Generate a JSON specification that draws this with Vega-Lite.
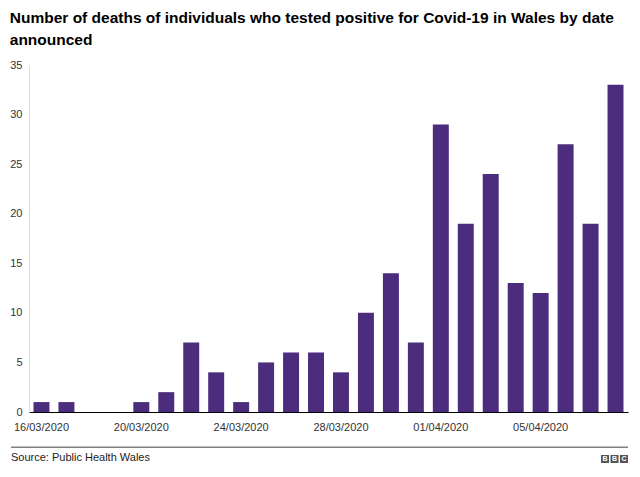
{
  "$schema": "https://vega.github.io/schema/vega-lite/v6.json",
  "width": 599,
  "height": 347,
  "autosize": {"type": "none"},
  "padding": {"left": 29, "top": 65, "right": 12, "bottom": 65},
  "background": "white",
  "config": {"view": {"stroke": null}, "font": "Liberation Sans"},
  "title": {
    "text": ["Number of deaths of individuals who tested positive for Covid-19 in Wales by date", "announced"],
    "anchor": "start",
    "dx": 0,
    "offset": 11,
    "fontSize": 15.5,
    "fontWeight": "bold",
    "color": "#000000",
    "font": "Liberation Sans",
    "lineHeight": 22
  },
  "data": {
    "values": [
      {"date": "16/03/2020", "deaths": 1},
      {"date": "17/03/2020", "deaths": 1},
      {"date": "18/03/2020", "deaths": 0},
      {"date": "19/03/2020", "deaths": 0},
      {"date": "20/03/2020", "deaths": 1},
      {"date": "21/03/2020", "deaths": 2},
      {"date": "22/03/2020", "deaths": 7},
      {"date": "23/03/2020", "deaths": 4},
      {"date": "24/03/2020", "deaths": 1},
      {"date": "25/03/2020", "deaths": 5},
      {"date": "26/03/2020", "deaths": 6},
      {"date": "27/03/2020", "deaths": 6},
      {"date": "28/03/2020", "deaths": 4},
      {"date": "29/03/2020", "deaths": 10},
      {"date": "30/03/2020", "deaths": 14},
      {"date": "31/03/2020", "deaths": 7},
      {"date": "01/04/2020", "deaths": 29},
      {"date": "02/04/2020", "deaths": 19},
      {"date": "03/04/2020", "deaths": 24},
      {"date": "04/04/2020", "deaths": 13},
      {"date": "05/04/2020", "deaths": 12},
      {"date": "06/04/2020", "deaths": 27},
      {"date": "07/04/2020", "deaths": 19},
      {"date": "08/04/2020", "deaths": 33}
    ]
  },
  "resolve": {"scale": {"x": "independent"}, "axis": {"x": "independent"}},
  "layer": [
    {
      "mark": {"type": "bar", "color": "#4b2c7d"},
      "encoding": {
        "x": {
          "field": "date",
          "type": "ordinal",
          "sort": null,
          "scale": {"paddingInner": 0.36, "paddingOuter": 0.18},
          "axis": {
            "title": null,
            "values": ["16/03/2020", "20/03/2020", "24/03/2020", "28/03/2020", "01/04/2020", "05/04/2020"],
            "labelAngle": 0,
            "ticks": false,
            "domainColor": "#000000",
            "domainWidth": 1,
            "labelFontSize": 11,
            "labelColor": "#333333",
            "labelPadding": 9,
            "labelFont": "Liberation Sans"
          }
        },
        "y": {
          "field": "deaths",
          "type": "quantitative",
          "scale": {"domain": [0, 35], "nice": false},
          "axis": {
            "title": null,
            "values": [0, 5, 10, 15, 20, 25, 30, 35],
            "grid": false,
            "ticks": false,
            "domainColor": "#dddddd",
            "labelFontSize": 11,
            "labelColor": "#333333",
            "labelPadding": 7,
            "labelFont": "Liberation Sans"
          }
        }
      }
    },
    {
      "data": {"values": [{}]},
      "layer": [
        {
          "mark": {"type": "rule", "color": "#808080", "strokeWidth": 1.5, "clip": false},
          "encoding": {
            "x": {"datum": -0.0301, "type": "quantitative", "scale": {"domain": [0, 1], "nice": false, "zero": false}, "axis": null},
            "x2": {"datum": 1.0},
            "y": {"datum": -3.55, "type": "quantitative"}
          }
        },
        {
          "mark": {"type": "text", "text": "Source: Public Health Wales", "align": "left", "baseline": "middle", "fontSize": 11, "color": "#222222", "font": "Liberation Sans", "clip": false},
          "encoding": {
            "x": {"datum": -0.0301, "type": "quantitative", "axis": null},
            "y": {"datum": -4.65, "type": "quantitative"}
          }
        },
        {
          "mark": {"type": "square", "color": "#555555", "opacity": 1, "size": 64, "clip": false},
          "encoding": {
            "x": {"datum": 0.9616, "type": "quantitative", "axis": null},
            "y": {"datum": -4.74, "type": "quantitative"}
          }
        },
        {
          "mark": {"type": "square", "color": "#555555", "opacity": 1, "size": 64, "clip": false},
          "encoding": {
            "x": {"datum": 0.9775, "type": "quantitative", "axis": null},
            "y": {"datum": -4.74, "type": "quantitative"}
          }
        },
        {
          "mark": {"type": "square", "color": "#555555", "opacity": 1, "size": 64, "clip": false},
          "encoding": {
            "x": {"datum": 0.9933, "type": "quantitative", "axis": null},
            "y": {"datum": -4.74, "type": "quantitative"}
          }
        },
        {
          "mark": {"type": "text", "text": "B", "align": "center", "baseline": "middle", "fontSize": 7, "fontWeight": "bold", "color": "#ffffff", "clip": false},
          "encoding": {
            "x": {"datum": 0.9616, "type": "quantitative", "axis": null},
            "y": {"datum": -4.74, "type": "quantitative"}
          }
        },
        {
          "mark": {"type": "text", "text": "B", "align": "center", "baseline": "middle", "fontSize": 7, "fontWeight": "bold", "color": "#ffffff", "clip": false},
          "encoding": {
            "x": {"datum": 0.9775, "type": "quantitative", "axis": null},
            "y": {"datum": -4.74, "type": "quantitative"}
          }
        },
        {
          "mark": {"type": "text", "text": "C", "align": "center", "baseline": "middle", "fontSize": 7, "fontWeight": "bold", "color": "#ffffff", "clip": false},
          "encoding": {
            "x": {"datum": 0.9933, "type": "quantitative", "axis": null},
            "y": {"datum": -4.74, "type": "quantitative"}
          }
        }
      ]
    }
  ]
}
